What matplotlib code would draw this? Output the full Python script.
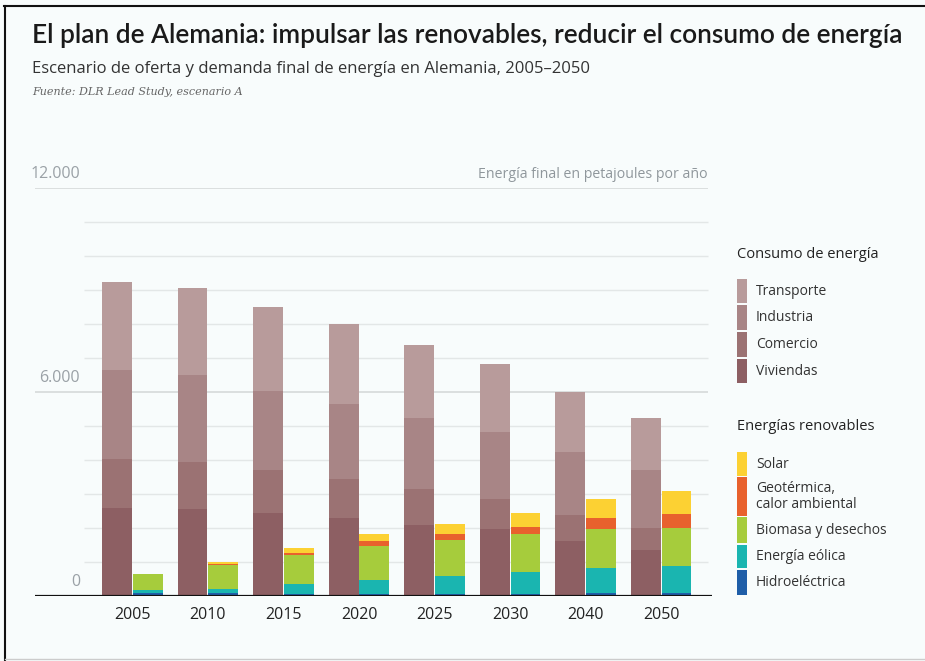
import matplotlib.pyplot as plt
import numpy as np
from matplotlib.lines import Line2D
from matplotlib.patches import Rectangle

years = ['2005', '2010', '2015', '2020', '2025', '2030', '2040', '2050']

# consumo final por sector (PJ)
viviendas = [2580, 2560, 2430, 2285, 2090, 1960, 1625, 1355]
comercio = [1440, 1390, 1275, 1145, 1060, 895, 755, 655]
industria = [2625, 2550, 2325, 2205, 2080, 1980, 1865, 1695]
transporte = [2590, 2560, 2480, 2355, 2155, 1980, 1745, 1540]

# renovables (PJ)
hidro = [78, 78, 70, 60, 60, 70, 78, 78]
eolica = [98, 128, 273, 410, 530, 626, 755, 804]
biomasa = [462, 697, 853, 1010, 1060, 1118, 1128, 1108]
geotermica = [0, 47, 79, 128, 186, 225, 343, 412]
solar = [0, 40, 127, 225, 294, 392, 539, 686]

cons_names = ['Viviendas', 'Comercio', 'Industria', 'Transporte']
cons_colors = ['#8d5f63', '#9b7273', '#a88586', '#b89b9b']
ren_names = ['Hidroeléctrica', 'Energía eólica', 'Biomasa y desechos',
             'Geotérmica,\ncalor ambiental', 'Solar']
ren_colors = ['#1f5ea8', '#1ab5b0', '#a6cc3c', '#e8612d', '#fcd133']

W, H = 925, 661
BG = '#f8fcfc'
body = ['Open Sans', 'DejaVu Sans']

fig = plt.figure(figsize=(W / 100, H / 100), dpi=100, facecolor=BG)


def fx(x):
    return x / W


def fy(y):
    return 1 - y / H


ax = fig.add_axes([fx(35), fy(596), fx(712) - fx(35), fy(188) - fy(596)])
ax.set_facecolor(BG)
ax.set_ylim(0, 12000)
ax.set_xlim(-1.291, 7.675)
for s in ax.spines.values():
    s.set_visible(False)
ax.set_xticks([])
ax.set_yticks([])

x = np.arange(len(years))
w = 0.397
off = 0.205

# líneas de referencia
for v in range(1000, 12000, 1000):
    if v == 6000:
        continue
    ax.hlines(v, -0.642, 7.622, color='#e3e7e7', lw=1, zorder=0)
for v in (6000, 12000):
    ax.hlines(v, -1.34, 7.622, color='#d3d7d7', lw=1.1, zorder=0)

bottom = np.zeros(len(years))
for vals, col in zip([viviendas, comercio, industria, transporte], cons_colors):
    ax.bar(x - off, vals, w, bottom=bottom, color=col, lw=0, zorder=2)
    bottom += np.array(vals)

bottom = np.zeros(len(years))
for vals, col in zip([hidro, eolica, biomasa, geotermica, solar], ren_colors):
    ax.bar(x + off, vals, w, bottom=bottom, color=col, lw=0, zorder=2)
    bottom += np.array(vals)

ax.axhline(0, color='#111111', lw=1.6, zorder=3)

for xi, yr in zip(x, years):
    ax.text(xi, -330, yr, ha='center', va='top', fontsize=11.5,
            color='#222222', family=body)

for v, lab in [(0, '0'), (6000, '6.000'), (12000, '12.000')]:
    ax.text(-0.695, v + 180, lab, ha='right', va='bottom', fontsize=11.5,
            color='#9aa1a6', family=body)
ax.text(7.622, 12180, 'Energía final en petajoules por año', ha='right',
        va='bottom', fontsize=10.2, color='#8f979c', family=body)

# títulos
fig.text(fx(32), fy(36), 'El plan de Alemania: impulsar las renovables, reducir el consumo de energía',
         ha='left', va='center', fontsize=18.9, fontweight='semibold',
         color='#1a1a1a', family=['Lato', 'DejaVu Sans'])
fig.text(fx(32), fy(69), 'Escenario de oferta y demanda final de energía en Alemania, 2005–2050',
         ha='left', va='center', fontsize=12, color='#333333', family=body)
fig.text(fx(32), fy(92), 'Fuente: DLR Lead Study, escenario A', ha='left', va='center',
         fontsize=8, style='italic', color='#666666', family=['DejaVu Serif'])

# leyenda
def swatch(y0, y1, col):
    fig.patches.append(Rectangle((fx(737), fy(y1)), fx(747) - fx(737), fy(y0) - fy(y1),
                                 transform=fig.transFigure, color=col, lw=0))


fig.text(fx(737), fy(255), 'Consumo de energía', ha='left', va='center',
         fontsize=10.5, color='#222222', family=body)
cons_boxes = [(359, 383), (332, 357), (305, 330), (279, 303)]
for (y0, y1), col, name in zip(cons_boxes, cons_colors, cons_names):
    swatch(y0, y1, col)
    fig.text(fx(756), fy((y0 + y1) / 2), name, ha='left', va='center',
             fontsize=10, color='#333333', family=body)

fig.text(fx(737), fy(427), 'Energías renovables', ha='left', va='center',
         fontsize=10.5, color='#222222', family=body)
ren_boxes = [(570, 595), (545, 568), (517, 543), (477, 516), (452, 476)]
for (y0, y1), col, name in zip(ren_boxes, ren_colors, ren_names):
    swatch(y0, y1, col)
    fig.text(fx(756), fy((y0 + y1) / 2), name, ha='left', va='center',
             fontsize=10, color='#333333', family=body, linespacing=1.0)

# marco
fig.lines.append(Line2D([fx(4), fx(925)], [fy(6), fy(6)], transform=fig.transFigure,
                        color='#111111', lw=1.5))
fig.lines.append(Line2D([fx(5), fx(5)], [fy(6), fy(661)], transform=fig.transFigure,
                        color='#111111', lw=1.5))
fig.lines.append(Line2D([fx(5), fx(925)], [fy(659), fy(659)], transform=fig.transFigure,
                        color='#cccccc', lw=1))

fig.savefig('out.png', dpi=100, facecolor=BG)
